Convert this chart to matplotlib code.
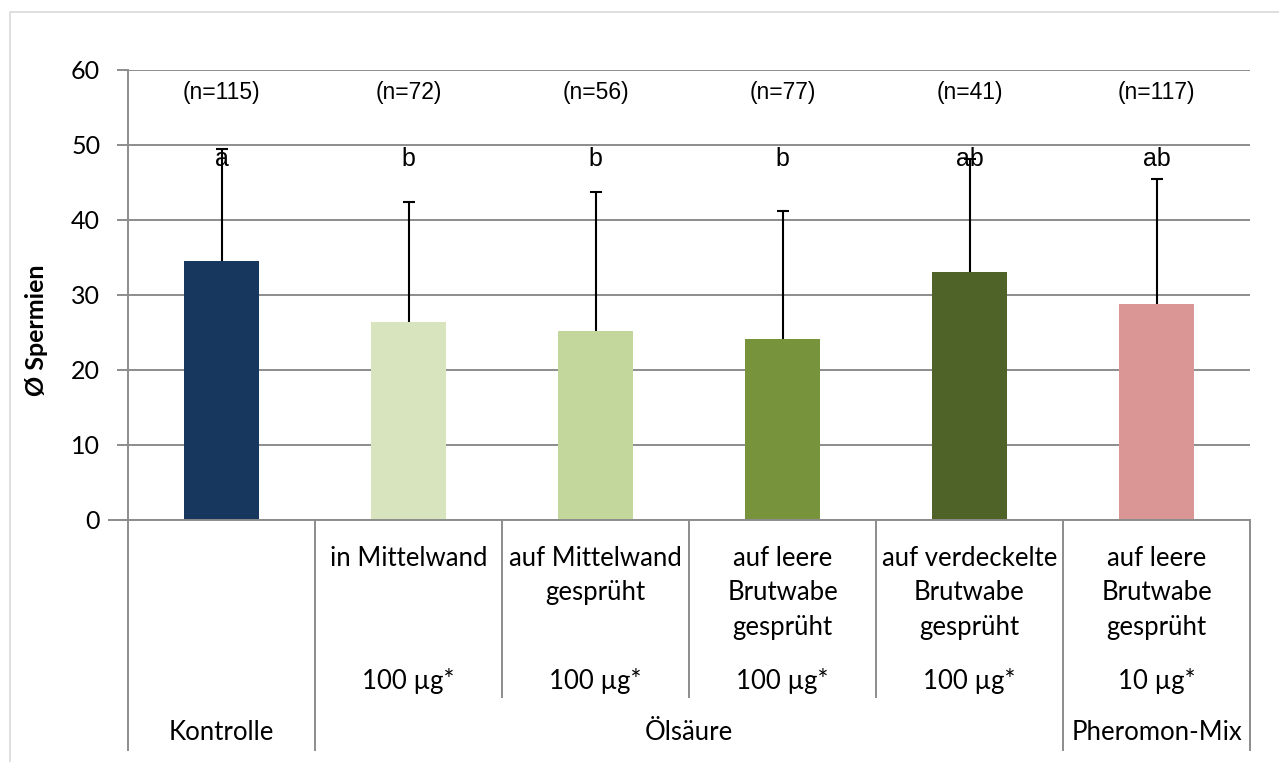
import matplotlib.pyplot as plt
from matplotlib.transforms import blended_transform_factory
from matplotlib.lines import Line2D

# Daten
beschreibung = ["", "in Mittelwand", "auf Mittelwand\ngesprüht",
                "auf leere\nBrutwabe\ngesprüht", "auf verdeckelte\nBrutwabe\ngesprüht",
                "auf leere\nBrutwabe\ngesprüht"]
dosis = ["", "100 µg*", "100 µg*", "100 µg*", "100 µg*", "10 µg*"]
gruppen = ["Kontrolle", "Ölsäure", "Pheromon-Mix"]
gruppen_start = [0, 1, 5]
gruppen_ende = [0, 4, 5]
mittelwert = [34.5, 26.3, 25.1, 24.1, 33.0, 28.8]
fehler_oben = [49.4, 42.3, 43.7, 41.2, 48.1, 45.4]
n_werte = [115, 72, 56, 77, 41, 117]
buchstaben = ["a", "b", "b", "b", "ab", "ab"]
farben = ["#17375E", "#D7E4BD", "#C3D69B", "#77933C", "#4F6228", "#D99694"]

W, H = 1279, 762
fig = plt.figure(figsize=(W / 100, H / 100), dpi=100)

# Achsenbereich in Pixeln
x0, x1, ytop, ybot = 128, 1250, 69.5, 519.5
ax = fig.add_axes([x0 / W, 1 - ybot / H, (x1 - x0) / W, (ybot - ytop) / H])

x = list(range(len(mittelwert)))
ax.bar(x, mittelwert, width=0.4, color=farben, zorder=3)
# nur obere Fehlerbalken
ax.vlines(x, mittelwert, fehler_oben, color="black", linewidth=1.5, zorder=4)
ax.plot(x, fehler_oben, ls="none", marker="_", ms=9, mew=1.5, color="black",
        zorder=4)

ax.set_xlim(-0.5, 5.5)
ax.set_ylim(0, 60)
ax.set_yticks(range(0, 61, 10))
ax.yaxis.grid(True, color="#8c8c8c", linewidth=1.4, zorder=0)
ax.set_xticks([])
for s in ["top", "right", "bottom"]:
    ax.spines[s].set_visible(False)
ax.spines["left"].set_color("#8c8c8c")
ax.spines["left"].set_linewidth(1.4)
ax.tick_params(axis="y", length=8, width=1.4, color="#8c8c8c", pad=12,
               labelsize=18)
for lab in ax.get_yticklabels():
    lab.set_family("Lato")

ax.set_ylabel("Ø Spermien", fontsize=18, fontweight="bold", family="Lato",
              labelpad=0)
ax.yaxis.set_label_coords(-80 / (x1 - x0), 0.42)

for i in x:
    ax.text(i, 57.0, f"(n={n_werte[i]})", ha="center", va="center",
            fontsize=16.5, family="Liberation Sans")
    ax.text(i, 47.2, buchstaben[i], ha="center", va="baseline",
            fontsize=18, family="Liberation Sans", zorder=5)

# Kategorienachse (mehrstufig)
tr = blended_transform_factory(ax.transData, fig.transFigure)
def fy(py):
    return 1 - py / H

grau = "#8c8c8c"
for g in range(len(gruppen) + 1):
    xs = -0.5 if g == 0 else gruppen_ende[g - 1] + 0.5
    fig.add_artist(Line2D([xs, xs], [fy(ybot), fy(750)], transform=tr,
                          color=grau, linewidth=1.4))
for i in range(len(mittelwert) - 1):
    xs = i + 0.5
    if xs - 0.5 in gruppen_ende:
        continue
    fig.add_artist(Line2D([xs, xs], [fy(ybot), fy(697)], transform=tr,
                          color=grau, linewidth=1.4))
fig.add_artist(Line2D([-0.6, 5.5], [fy(ybot), fy(ybot)], transform=tr,
                      color=grau, linewidth=1.4))

for i in x:
    fig.text(i, fy(546), beschreibung[i], transform=tr, ha="center", va="top",
             fontsize=18.5, family="Lato", linespacing=1.47)
    fig.text(i, fy(681), dosis[i], transform=tr, ha="center", va="center",
             fontsize=18.5, family="Lato")
for g, name in enumerate(gruppen):
    xm = (gruppen_start[g] + gruppen_ende[g]) / 2
    fig.text(xm, fy(733), name, transform=tr, ha="center", va="center",
             fontsize=18.5, family="Lato")

# Rahmen des Diagramms
fig.add_artist(Line2D([10 / W, 10 / W, 1], [0, fy(12), fy(12)],
                      transform=fig.transFigure, color="#d9d9d9", linewidth=1.2))

fig.savefig("out.png", dpi=100)
